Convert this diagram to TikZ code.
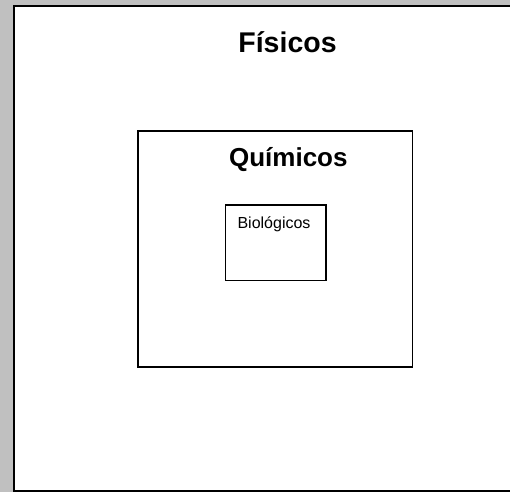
\documentclass[tikz,border=0pt]{standalone}
\usepackage{fontspec}
\setmainfont{Liberation Sans}
\begin{document}
\begin{tikzpicture}[x=1pt,y=-1pt,
  box/.style={draw=black, fill=white, rectangle, inner sep=0pt, outer sep=0pt},
  title/.style={anchor=base, inner sep=0pt},
  small/.style={anchor=base, inner sep=0pt, font=\fontsize{16}{19}\selectfont}]
\fill[fill={rgb,255:red,192;green,192;blue,192}] (0,0) rectangle (510,492);
\useasboundingbox (0,0) rectangle (510,492);
\coordinate (otl) at (14,6);
\coordinate (obl) at (14,491);
\coordinate (otr) at (510,6);
\coordinate (obr) at (510,491);
\fill[white] (otl) rectangle (obr);
\draw[line width=2pt, line cap=butt] (otr) -- (otl) -- (obl) -- (obr);
\node[box, line width=1.5pt, minimum width=274.3pt, minimum height=236pt] (quibox) at (275.15,249) {};
\node[box, line width=1.5pt, minimum width=100.5pt, minimum height=75.5pt] (biobox) at (275.75,242.75) {};
\node[title, font=\fontsize{28.5}{32}\selectfont\bfseries] (fis) at (287.5,53) {Físicos};
\node[title, font=\fontsize{26}{30}\selectfont\bfseries] (qui) at (288.3,166.5) {Químicos};
\node[small] (bio) at (274,228.3) {Biológicos};
\end{tikzpicture}
\end{document}
